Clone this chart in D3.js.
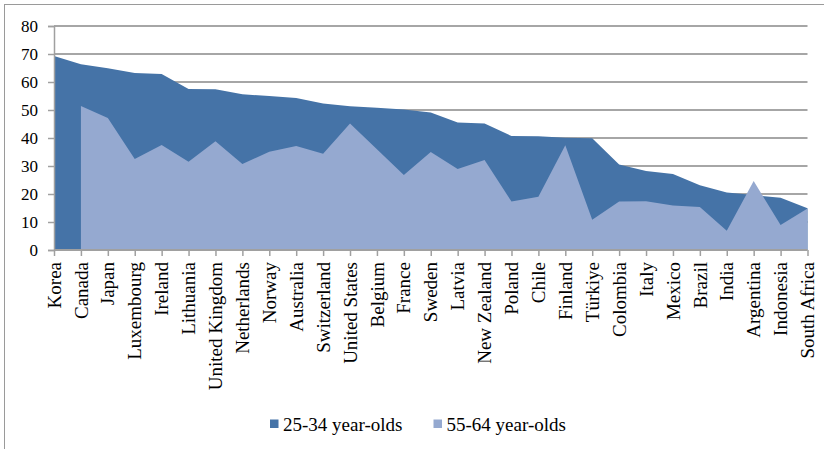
<!DOCTYPE html>
<html>
<head>
<meta charset="utf-8">
<script src="https://cdn.jsdelivr.net/npm/d3@7"></script>
<style>
  html, body { margin: 0; padding: 0; background: #fff; }
  svg { display: block; }
  text { font-family: "Liberation Serif", "Times New Roman", serif; fill: #000; }
</style>
</head>
<body>
<svg id="chart" width="824" height="449"></svg>
<script>
// Countries along the x axis
const countries = [
  "Korea", "Canada", "Japan", "Luxembourg", "Ireland", "Lithuania",
  "United Kingdom", "Netherlands", "Norway", "Australia", "Switzerland",
  "United States", "Belgium", "France", "Sweden", "Latvia", "New Zealand",
  "Poland", "Chile", "Finland", "Türkiye", "Colombia", "Italy", "Mexico",
  "Brazil", "India", "Argentina", "Indonesia", "South Africa"
];

// Share (%) by age group; null = not available
const young = [
  69.3, 66.3, 64.9, 63.2, 62.9, 57.5, 57.4, 55.6, 55.0, 54.3, 52.3,
  51.3, 50.8, 50.2, 49.1, 45.5, 45.2, 40.7, 40.6, 40.1, 39.9, 30.5,
  28.2, 27.1, 23.1, 20.5, 19.6, 18.7, 14.9
];
const older = [
  null, 51.4, 47.1, 32.5, 37.5, 31.5, 38.8, 30.7, 35.1, 37.1, 34.4,
  45.2, 36.0, 26.8, 35.0, 28.9, 32.1, 17.3, 19.0, 37.4, 10.8, 17.3,
  17.4, 15.9, 15.4, 6.9, 24.6, 8.9, 14.8
];

const seriesNames = ["25-34 year-olds", "55-64 year-olds"];
const seriesColors = ["#4573a7", "#95a9d0"];
const yTicks = [0, 10, 20, 30, 40, 50, 60, 70, 80];

const svg = d3.select("#chart");
const plot = { left: 54, right: 807.5, top: 26, bottom: 250 };

const x = d3.scalePoint().domain(countries).range([plot.left, plot.right]);
const y = d3.scaleLinear().domain([0, 80]).range([plot.bottom, plot.top]);

// Outer chart frame
svg.append("rect")
  .attr("x", 4.5).attr("y", 4.5)
  .attr("width", 840).attr("height", 460)
  .attr("fill", "none").attr("stroke", "#9a9a9a").attr("stroke-width", 1);

// Horizontal gridlines
svg.append("g")
  .selectAll("line")
  .data(yTicks.filter(t => t > 0))
  .join("line")
  .attr("x1", plot.left).attr("x2", plot.right)
  .attr("y1", d => y(d)).attr("y2", d => y(d))
  .attr("stroke", "#a6a6a6").attr("stroke-width", 2);

// Areas: older group drawn on top of the younger group
const rows = countries.map((c, i) => ({ c, young: young[i], older: older[i] }));

const areaFor = key => d3.area()
  .defined(d => d[key] != null)
  .x(d => x(d.c))
  .y0(y(0))
  .y1(d => y(d[key]));

svg.append("path")
  .datum(rows)
  .attr("d", areaFor("young"))
  .attr("fill", seriesColors[0]);

svg.append("path")
  .datum(rows)
  .attr("d", areaFor("older"))
  .attr("fill", seriesColors[1]);

// Y axis
const yAxis = svg.append("g")
  .attr("transform", `translate(${plot.left},0)`)
  .call(d3.axisLeft(y).tickValues(yTicks).tickSize(6).tickPadding(10));
yAxis.select(".domain").attr("stroke", "#a0a0a0").attr("stroke-width", 1.5);
yAxis.selectAll(".tick line").attr("stroke", "#a0a0a0").attr("stroke-width", 1.5);
yAxis.selectAll(".tick text")
  .style("font-family", "'Liberation Serif', 'Times New Roman', serif")
  .style("font-size", "17px")
  .attr("fill", "#000");

// X axis
const xAxis = svg.append("g")
  .attr("transform", `translate(0,${plot.bottom})`)
  .call(d3.axisBottom(x).tickSize(6).tickSizeOuter(0).tickFormat(""));
xAxis.select(".domain").attr("stroke", "#a0a0a0").attr("stroke-width", 2)
  .attr("d", `M${plot.left},0H${plot.right}`);
xAxis.selectAll(".tick line").attr("stroke", "#a0a0a0").attr("stroke-width", 1.5);

// Rotated country labels
svg.append("g")
  .selectAll("text")
  .data(countries)
  .join("text")
  .attr("transform", d => `translate(${x(d)},262) rotate(-90)`)
  .attr("text-anchor", "end")
  .attr("dy", "0.35em")
  .style("font-size", "19px")
  .text(d => d);

// Legend
const legendItems = [
  { name: seriesNames[0], color: seriesColors[0], sx: 270, tx: 283 },
  { name: seriesNames[1], color: seriesColors[1], sx: 433.5, tx: 446.5 }
];
const legend = svg.append("g");
legend.selectAll("rect")
  .data(legendItems)
  .join("rect")
  .attr("x", d => d.sx).attr("y", 419.5)
  .attr("width", 8.5).attr("height", 8.5)
  .attr("fill", d => d.color);
legend.selectAll("text")
  .data(legendItems)
  .join("text")
  .attr("x", d => d.tx).attr("y", 430.5)
  .style("font-size", "19px")
  .text(d => d.name);
</script>
</body>
</html>
